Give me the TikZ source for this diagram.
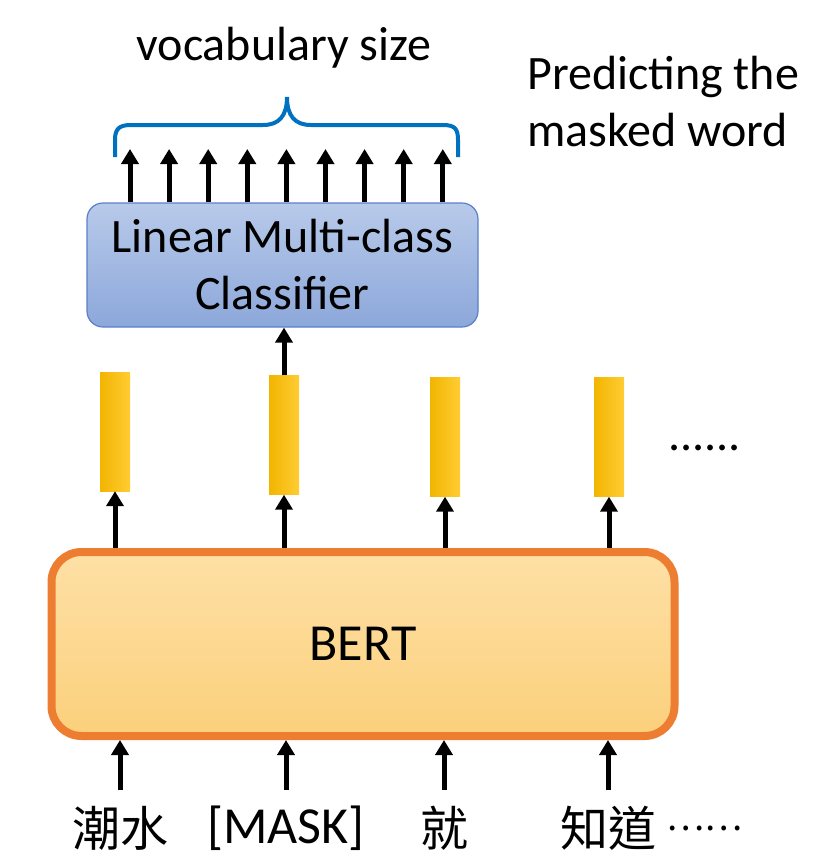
\documentclass[tikz,border=0pt]{standalone}
\usepackage{fontspec}
\setmainfont{Carlito}
\newfontfamily\cjk{Noto Sans CJK TC}
\usetikzlibrary{arrows.meta,positioning}

\definecolor{braceblue}{HTML}{0070C0}
\definecolor{clstop}{HTML}{B8CAEA}
\definecolor{clsbot}{HTML}{8CA7DA}
\definecolor{clsline}{HTML}{5B80C8}
\definecolor{berttop}{HTML}{FEE0A6}
\definecolor{bertbot}{HTML}{FBD07B}
\definecolor{bertline}{HTML}{ED7D31}
\definecolor{vecleft}{HTML}{F2B500}
\definecolor{vecright}{HTML}{FFCC33}

\tikzset{
  arr/.style={-{Triangle[width=17pt,length=15pt]}, line width=5pt},
  lbl/.style={inner sep=0pt, font=\fontsize{48}{57}\selectfont},
  vec/.style={minimum width=30pt, minimum height=119pt, inner sep=0pt,
    left color=vecleft, right color=vecright},
  tok/.style={inner sep=0pt, minimum height=60pt, font=\fontsize{52}{60}\selectfont},
  cjktok/.style={tok, font=\cjk\fontsize{48}{56}\selectfont},
}

\begin{document}
\begin{tikzpicture}[x=1pt, y=-1pt]
\useasboundingbox (0,0) rectangle (839,863);

% classifier and the brace over its outputs
\node[lbl, draw=clsline, line width=1.2pt, rounded corners=16pt,
  top color=clstop, bottom color=clsbot, minimum width=391pt,
  minimum height=124pt, align=center] (cls) at (282.5,265) {Linear Multi-class\\Classifier};
\foreach \i in {0,...,8}{
  \coordinate (o\i) at ({130+39.1*\i},149);
  \draw[arr] (o\i |- cls.north) -- (o\i);
}
\draw[braceblue, line width=4pt] (115,157) -- (115,140)
  .. controls (115,129) and (119,125) .. (131,125) -- (263,125)
  .. controls (279,125) and (287,116) .. (287,97)
  .. controls (287,116) and (295,125) .. (311,125) -- (443,125)
  .. controls (455,125) and (458,129) .. (458,140) -- (458,157);
\node[lbl, anchor=base] (vocab) at (284,60) {vocabulary size};
\node[lbl, anchor=north west, align=left] (task) at (527,56) {Predicting the\\masked word};

% BERT outputs
\foreach \i/\x/\y in {1/115/431.5, 2/284/435, 3/445/437, 4/609/437}{
  \node[vec] (h\i) at (\x,\y) {};
}
\node[lbl, anchor=base west] (more) at (668,450) {......};
\draw[arr] (h2.north) -- (h2.north |- cls.south);

% BERT
\node[draw=bertline, line width=8pt, rounded corners=30pt,
  top color=berttop, bottom color=bertbot, minimum width=623pt,
  minimum height=184pt, font=\fontsize{52}{60}\selectfont] (bert) at (363,644) {BERT};
\foreach \i in {1,...,4}{
  \draw[arr] (h\i.south |- bert.north) -- (h\i.south);
}

% input tokens
\node[cjktok] (w1) at (120,828) {潮水};
\node[tok] (w2) at (286,828) {[MASK]};
\node[cjktok] (w3) at (444,828) {就};
\node[cjktok] (w4) at (608,828) {知道};
\node[cjktok, font=\cjk\fontsize{36}{56}\selectfont, right=10pt of w4] (w5) {……};
\foreach \i in {1,...,4}{
  \draw[arr, shorten <=8pt] (w\i.north) -- (w\i.north |- bert.south);
}
\end{tikzpicture}
\end{document}
